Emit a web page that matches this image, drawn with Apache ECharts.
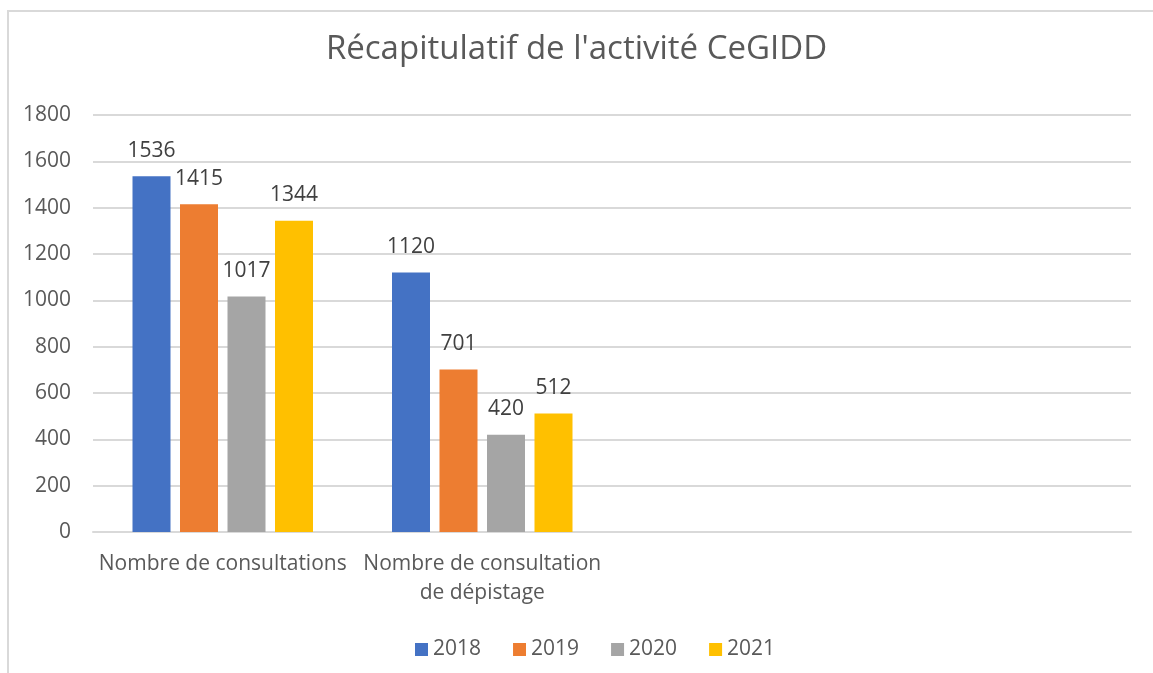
<!DOCTYPE html>
<html>
<head>
<meta charset="utf-8">
<script src="https://cdn.jsdelivr.net/npm/echarts@6/dist/echarts.min.js"></script>
<style>
  html, body { margin: 0; padding: 0; background: #fff; }
  #chart { width: 1153px; height: 673px; }
</style>
</head>
<body>
<div id="chart"></div>
<script>
  // catégories et valeurs
  const categories = ['Nombre de consultations', 'Nombre de consultation\nde dépistage', '', ''];
  const years = ['2018', '2019', '2020', '2021'];
  const v2018 = [1536, 1120];
  const v2019 = [1415, 701];
  const v2020 = [1017, 420];
  const v2021 = [1344, 512];
  const colors = ['#4472c4', '#ed7d31', '#a5a5a5', '#ffc000'];
  const yTicks = [0, 200, 400, 600, 800, 1000, 1200, 1400, 1600, 1800];

  const font = '"Open Sans", "Noto Sans", sans-serif';
  const seriesValues = [v2018, v2019, v2020, v2021];

  let myChart = echarts.init(document.getElementById('chart'));
  let option = {
    animation: false,
    title: {
      text: "Récapitulatif de l'activité CeGIDD",
      left: 'center',
      top: 28,
      textStyle: { fontFamily: font, fontSize: 33, fontWeight: 'normal', color: '#595959' }
    },
    legend: {
      data: years,
      bottom: 8,
      left: 410,
      itemWidth: 13,
      itemHeight: 13,
      itemGap: 32,
      itemStyle: { borderWidth: 0 },
      icon: 'rect',
      textStyle: { fontFamily: font, fontSize: 21, color: '#595959' }
    },
    grid: { left: 93, right: 22, top: 115, bottom: 141 },
    xAxis: {
      type: 'category',
      data: categories,
      axisLine: { lineStyle: { color: '#d9d9d9', width: 2 } },
      axisTick: { show: false },
      axisLabel: {
        fontFamily: font, fontSize: 21, color: '#595959', margin: 18, lineHeight: 29,
        interval: 0
      }
    },
    yAxis: {
      type: 'value',
      min: yTicks[0],
      max: yTicks[yTicks.length - 1],
      interval: 200,
      axisLine: { show: false },
      axisTick: { show: false },
      splitLine: { lineStyle: { color: '#d9d9d9', width: 2 } },
      axisLabel: {
        fontFamily: font, fontSize: 21, color: '#595959', margin: 22,
        padding: [8, 0, 0, 0],
        formatter: function (v) { return String(v); }
      }
    },
    graphic: [{
      type: 'rect',
      shape: { x: 8, y: 11, width: 1200, height: 700 },
      style: { fill: 'none', stroke: '#d9d9d9', lineWidth: 2 },
      silent: true
    }],
    series: years.map(function (y, i) {
      return {
        name: y,
        type: 'bar',
        data: seriesValues[i],
        barWidth: 38,
        barGap: '25%',
        itemStyle: { color: colors[i] },
        label: {
          show: true,
          position: 'top',
          distance: 15,
          fontFamily: font,
          fontSize: 21,
          color: '#404040'
        }
      };
    })
  };
  myChart.setOption(option);
</script>
</body>
</html>
